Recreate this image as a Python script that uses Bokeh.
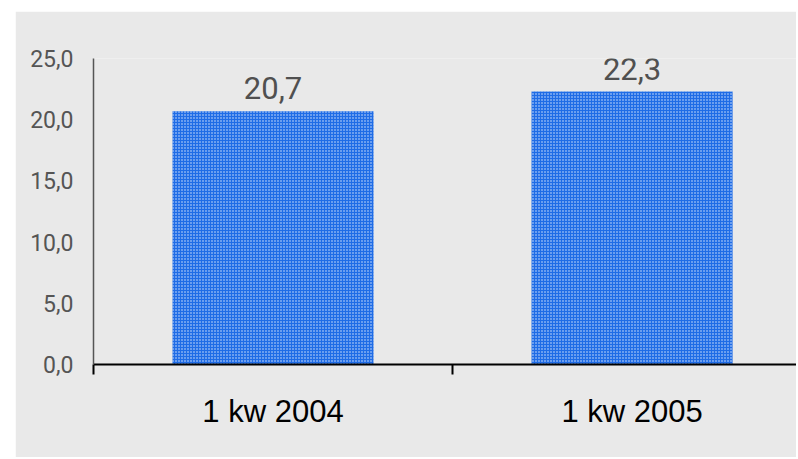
from bokeh.plotting import figure
from bokeh.models import Range1d, FixedTicker, ColumnDataSource, Spacer
from bokeh.layouts import column, row
from bokeh.core.properties import value
from bokeh.embed import file_html
from bokeh.resources import INLINE

categories = ["1 kw 2004", "1 kw 2005"]
values = [20.7, 22.3]
y_ticks = [0, 5, 10, 15, 20, 25]

positions = [i + 0.5 for i in range(len(categories))]
labels = [f"{v:.1f}".replace(".", ",") for v in values]
src = ColumnDataSource(dict(x=positions, top=values, label=labels))

BG = "#e9e9e9"
p = figure(width=781, height=446, output_backend="svg", toolbar_location=None,
           x_range=Range1d(0, 1.958), y_range=Range1d(0, 25),
           background_fill_color=BG, border_fill_color=BG,
           min_border_left=78, min_border_right=0, min_border_top=47, min_border_bottom=93,
           outline_line_color=None)
p.grid.visible = False

p.vbar(x="x", top="top", width=0.56, source=src, fill_color="#1f6ce6", line_color=None,
       hatch_pattern="dot", hatch_color="white", hatch_scale=3, hatch_weight=1, hatch_alpha=0.85)
p.text(x="x", y="top", text="label", source=src, text_align="center", text_baseline="bottom",
       y_offset=-12, text_font=value("Roboto"), text_font_size="31px", text_color="#505050")

ya = p.yaxis[0]
ya.ticker = FixedTicker(ticks=y_ticks)
ya.major_label_overrides = {t: f"{t:.1f}".replace(".", ",") for t in y_ticks}
ya.major_tick_line_color = None
ya.minor_tick_line_color = None
ya.major_tick_out = 0
ya.major_tick_in = 0
ya.major_label_standoff = 20
ya.axis_line_color = "#555555"
ya.axis_line_width = 1.5
ya.major_label_text_font = "Roboto"
ya.major_label_text_font_size = "23px"
ya.major_label_text_color = "#555555"

xa = p.xaxis[0]
xa.ticker = FixedTicker(ticks=positions, minor_ticks=[0, 1, 2])
xa.major_label_overrides = {pos: c for pos, c in zip(positions, categories)}
xa.major_tick_line_color = None
xa.major_tick_out = 0
xa.major_tick_in = 0
xa.minor_tick_line_color = "black"
xa.minor_tick_line_width = 2
xa.minor_tick_out = 10
xa.minor_tick_in = 0
xa.axis_line_color = "black"
xa.axis_line_width = 2
xa.major_label_standoff = 19
xa.major_label_text_font = "Liberation Sans"
xa.major_label_text_font_size = "31px"
xa.major_label_text_color = "black"

layout = column(Spacer(height=11), row(Spacer(width=15), p))
open("out.html", "w").write(file_html(layout, INLINE))
